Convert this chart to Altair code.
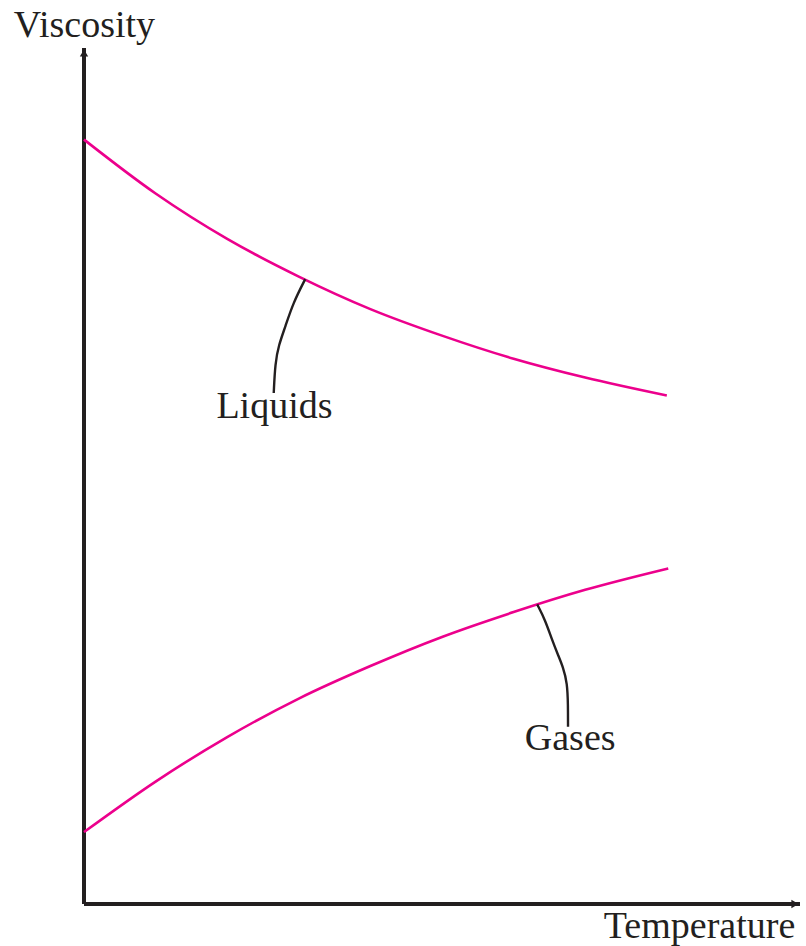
import altair as alt
import pandas as pd

# Viscosity vs temperature (qualitative sketch, arbitrary units 0-100)
temp_liquids = [0, 10, 20, 30, 40, 50, 60, 70, 81.4]
visc_liquids = [89.3, 83.0, 77.7, 73.3, 69.5, 66.4, 63.7, 61.5, 59.4]

temp_gases = [0, 10, 20, 30, 40, 50, 60, 70, 81.6]
visc_gases = [8.4, 14.3, 19.5, 24.0, 27.8, 31.2, 34.1, 36.7, 39.2]

# Leader lines joining each label to its curve
leader_liquids_x = [30.9, 29.2, 28.1, 27.2, 26.7, 26.5]
leader_liquids_y = [73.0, 70.2, 67.4, 65.3, 63.2, 59.7]
leader_gases_x = [63.3, 64.4, 65.4, 66.2, 66.9, 67.5, 67.6, 67.6]
leader_gases_y = [35.0, 33.2, 30.8, 29.1, 27.7, 25.8, 23.2, 20.7]

# Curve labels and axis titles
label_text = ["Liquids", "Gases"]
label_x = [26.6, 67.9]
label_y = [56.8, 18.0]

axis_title_text = ["Viscosity", "Temperature"]
axis_title_x = [-9.8, 72.6]
axis_title_y = [101.3, -4.0]

PINK = "#ec008c"
INK = "#231f20"
FONT = "Liberation Serif"

curves = pd.DataFrame({
    "t": temp_liquids + temp_gases,
    "v": visc_liquids + visc_gases,
    "series": ["Liquids"] * len(temp_liquids) + ["Gases"] * len(temp_gases),
})

leaders = pd.DataFrame({
    "t": leader_liquids_x + leader_gases_x,
    "v": leader_liquids_y + leader_gases_y,
    "series": ["Liquids"] * len(leader_liquids_x) + ["Gases"] * len(leader_gases_x),
    "i": list(range(len(leader_liquids_x))) + list(range(len(leader_gases_x))),
})

labels = pd.DataFrame({"t": label_x, "v": label_y, "text": label_text})
titles = pd.DataFrame({"t": axis_title_x, "v": axis_title_y, "text": axis_title_text})

xs = alt.Scale(domain=[0, 100], nice=False, zero=False)
ys = alt.Scale(domain=[0, 100], nice=False, zero=False)
X = lambda f="t": alt.X(f"{f}:Q", scale=xs, axis=None)
Y = lambda f="v": alt.Y(f"{f}:Q", scale=ys, axis=None)

# Axes drawn as arrows
axis_lines = pd.DataFrame({"t": [0, 0], "v": [0, 0], "t2": [100, 0], "v2": [0, 100]})
axes = alt.Chart(axis_lines).mark_rule(color=INK, strokeWidth=4).encode(
    x=X(), y=Y(), x2="t2:Q", y2="v2:Q"
)
arrow_up = alt.Chart(pd.DataFrame({"t": [0], "v": [100]})).mark_point(
    shape="triangle-up", filled=True, color=INK, size=70, opacity=1, yOffset=5
).encode(x=X(), y=Y())
arrow_right = alt.Chart(pd.DataFrame({"t": [100], "v": [0]})).mark_point(
    shape="triangle-right", filled=True, color=INK, size=70, opacity=1, xOffset=-5
).encode(x=X(), y=Y())

curve_layer = alt.Chart(curves).mark_line(
    color=PINK, strokeWidth=2.6, interpolate="monotone"
).encode(x=X(), y=Y(), detail="series:N")

leader_layer = alt.Chart(leaders).mark_line(
    color=INK, strokeWidth=2.4, interpolate="basis"
).encode(x=X(), y=Y(), detail="series:N", order="i:Q")

label_layer = alt.Chart(labels).mark_text(
    font=FONT, fontSize=38, color=INK, align="center", baseline="alphabetic"
).encode(x=X(), y=Y(), text="text:N")

title_layer = alt.Chart(titles).mark_text(
    font=FONT, fontSize=38, color=INK, align="left", baseline="alphabetic"
).encode(x=X(), y=Y(), text="text:N")

chart = alt.layer(
    axes, arrow_up, arrow_right, curve_layer, leader_layer, label_layer, title_layer
).properties(
    width=716,
    height=856,
    padding={"left": 84, "top": 48, "right": 6, "bottom": 42},
    autosize="none",
    background="white",
).configure_view(stroke=None)

chart.save("out.html", embed_options={"renderer": "svg", "actions": False})
